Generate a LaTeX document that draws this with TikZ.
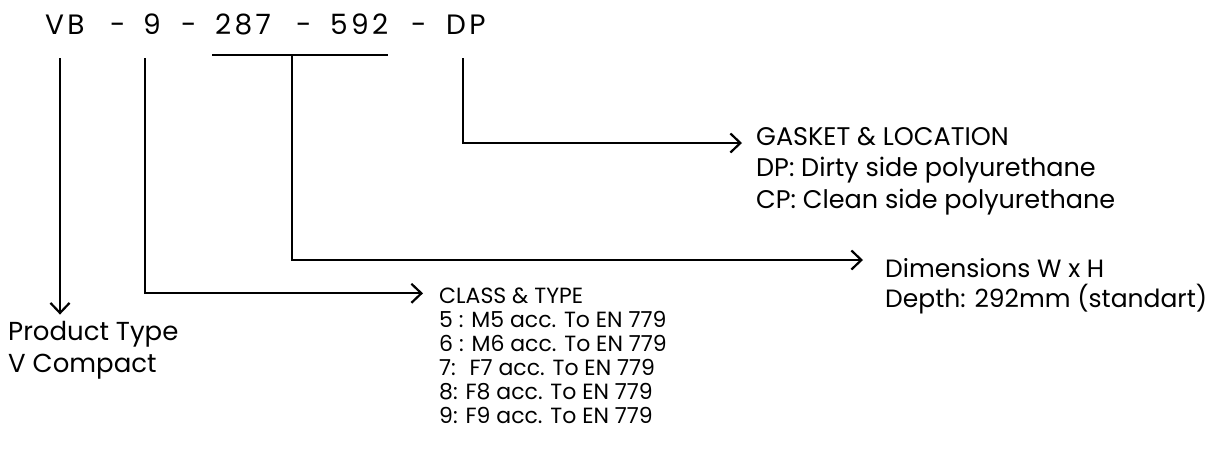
\documentclass[tikz,border=0pt]{standalone}
\usepackage{fontspec}
\setmainfont{Poppins}
\usetikzlibrary{arrows.meta,positioning}

\tikzset{
  code/.style={anchor=base west,inner sep=0pt,font=\fontsize{28}{28}\selectfont\addfontfeatures{LetterSpace=12}},
  info/.style={anchor=base west,inner sep=0pt,align=left,font=\fontsize{25}{30}\selectfont},
  infowide/.style={info,font=\fontsize{25.5}{31.5}\selectfont},
  infosmall/.style={info,font=\fontsize{22}{24}\selectfont},
  infobig/.style={info,font=\fontsize{26}{32}\selectfont},
  link/.style={line width=2.2pt},
  pointer/.style={link,-{Straight Barb[length=10pt,width=19pt]}},
}

\begin{document}
\begin{tikzpicture}[x=1pt,y=-1pt]
\useasboundingbox (0,0) rectangle (1220,448);
\fill[white] (0,0) rectangle (1220,448);

% product code
\foreach \t/\x [count=\i] in {VB/45,-/110,9/143,-/181,287/215,-/296,592/330,-/411,DP/446}
  \node[code] (c\i) at (\x,34) {\t};

\coordinate (vb) at (60,58);
\coordinate (cls) at (145,58);
\coordinate (barl) at (212,55);
\coordinate (barr) at (388,55);
\coordinate (dim) at (292,55);
\coordinate (gsk) at (463,58);

% labels
\node[infowide] (gasket) at (756,145) {GASKET \& LOCATION};
\node[infowide] (gasketlist) at (756,208) {DP: Dirty side polyurethane\\CP: Clean side polyurethane};
\node[info] (dims) at (885,277) {Dimensions W x H};
\node[info] (dimslist) at (885,307) {Depth: 292mm (standart)};
\node[infosmall] (class) at (439,303) {CLASS \& TYPE};
\node[infosmall] (classlist) at (439,423) {5 : M5 acc. To EN 779\\6 : M6 acc. To EN 779\\7: \ F7 acc. To EN 779\\8: F8 acc. To EN 779\\9: F9 acc. To EN 779};
\node[infobig] (product) at (8,372) {Product Type\\V Compact};

% connectors
\draw[link] (barl) -- (barr);
\draw[pointer,shorten >=6pt] (vb) -- (vb |- product.north);
\draw[pointer,shorten >=16pt] (cls) |- ([yshift=2pt]class.west);
\draw[pointer,shorten >=22pt] (dim) |- ([yshift=17pt]dims.base west);
\draw[pointer,shorten >=14pt] (gsk) |- ([yshift=2pt]gasket.base west);
\end{tikzpicture}
\end{document}
